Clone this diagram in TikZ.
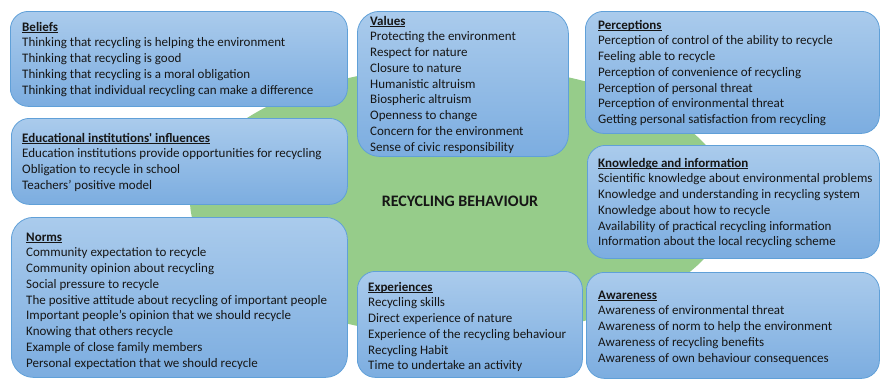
\documentclass[tikz,border=0pt]{standalone}
\usepackage{fontspec}
\setmainfont{Carlito}
\usetikzlibrary{shapes.geometric}

\definecolor{boxtop}{RGB}{170,203,236}
\definecolor{boxbot}{RGB}{124,173,224}
\definecolor{boxline}{RGB}{96,160,216}
\definecolor{blob}{RGB}{150,204,138}
\definecolor{ink}{RGB}{22,22,22}

\tikzset{
  factor/.style={draw=boxline, line width=0.8pt, rounded corners=18pt,
    top color=boxtop, bottom color=boxbot, anchor=north west, inner sep=0pt},
  itemlist/.style={anchor=base west, inner sep=0pt, text=ink},
  core/.style={ellipse, fill=blob, draw=none, minimum width=540pt,
    minimum height=270pt, inner sep=0pt, text=ink,
    font=\fontsize{16}{19}\selectfont\bfseries},
}

% bold heading with a rule just under its baseline
\newsavebox{\headbox}
\newcommand{\heading}[1]{\leavevmode\sbox{\headbox}{\textbf{#1}}%
  \rlap{\rule[-1.7pt]{\wd\headbox}{0.9pt}}\usebox{\headbox}}

% heading followed by the list of items, one per line
\newcommand{\factorlist}[2]{%
  \parbox[t]{330pt}{\raggedright\fontsize{13}{15.75}\selectfont
    \heading{#1}\\#2}}

\begin{document}
\begin{tikzpicture}[x=1pt,y=-1pt]
\useasboundingbox (0,0) rectangle (881,378);

% central behaviour
\node[core] (behaviour) at (460,201) {RECYCLING BEHAVIOUR};

% factor boxes
\node[factor, minimum width=337pt, minimum height=95pt]  (beliefs)     at (10,11)   {};
\node[factor, minimum width=211pt, minimum height=145pt, rounded corners=22pt] (values) at (357,11) {};
\node[factor, minimum width=294pt, minimum height=122pt] (perceptions) at (585,11)  {};
\node[factor, minimum width=336pt, minimum height=86pt]  (education)   at (11,118)  {};
\node[factor, minimum width=336pt, minimum height=160pt, rounded corners=22pt] (norms) at (11,217) {};
\node[factor, minimum width=225pt, minimum height=106pt] (experiences) at (357,271) {};
\node[factor, minimum width=292pt, minimum height=113pt] (knowledge)   at (587,145) {};
\node[factor, minimum width=293pt, minimum height=106pt] (awareness)   at (586,272) {};

% box contents
\node[itemlist] (beliefsText) at (22,31) {\factorlist{Beliefs}{%
  Thinking that recycling is helping the environment\\
  Thinking that recycling is good\\
  Thinking that recycling is a moral obligation\\
  Thinking that individual recycling can make a difference}};

\node[itemlist] (valuesText) at (370,25) {\factorlist{Values}{%
  Protecting the environment\\
  Respect for nature\\
  Closure to nature\\
  Humanistic altruism\\
  Biospheric altruism\\
  Openness to change\\
  Concern for the environment\\
  Sense of civic responsibility}};

\node[itemlist] (perceptionsText) at (598,29) {\factorlist{Perceptions}{%
  Perception of control of the ability to recycle\\
  Feeling able to recycle\\
  Perception of convenience of recycling\\
  Perception of personal threat\\
  Perception of environmental threat\\
  Getting personal satisfaction from recycling}};

\node[itemlist] (educationText) at (22,142) {\factorlist{Educational institutions\textquotesingle\ influences}{%
  Education institutions provide opportunities for recycling\\
  Obligation to recycle in school\\
  Teachers’ positive model}};

\node[itemlist] (normsText) at (26,241) {\factorlist{Norms}{%
  Community expectation to recycle\\
  Community opinion about recycling\\
  Social pressure to recycle\\
  The positive attitude about recycling of important people\\
  Important people’s opinion that we should recycle\\
  Knowing that others recycle\\
  Example of close family members\\
  Personal expectation that we should recycle}};

\node[itemlist] (experiencesText) at (368,291) {\factorlist{Experiences}{%
  Recycling skills\\
  Direct experience of nature\\
  Experience of the recycling behaviour\\
  Recycling Habit\\
  Time to undertake an activity}};

\node[itemlist] (knowledgeText) at (598,167) {\factorlist{Knowledge and information}{%
  Scientific knowledge about environmental problems\\
  Knowledge and understanding in recycling system\\
  Knowledge about how to recycle\\
  Availability of practical recycling information\\
  Information about the local recycling scheme}};

\node[itemlist] (awarenessText) at (598,299) {\factorlist{Awareness}{%
  Awareness of environmental threat\\
  Awareness of norm to help the environment\\
  Awareness of recycling benefits\\
  Awareness of own behaviour consequences}};
\end{tikzpicture}
\end{document}
